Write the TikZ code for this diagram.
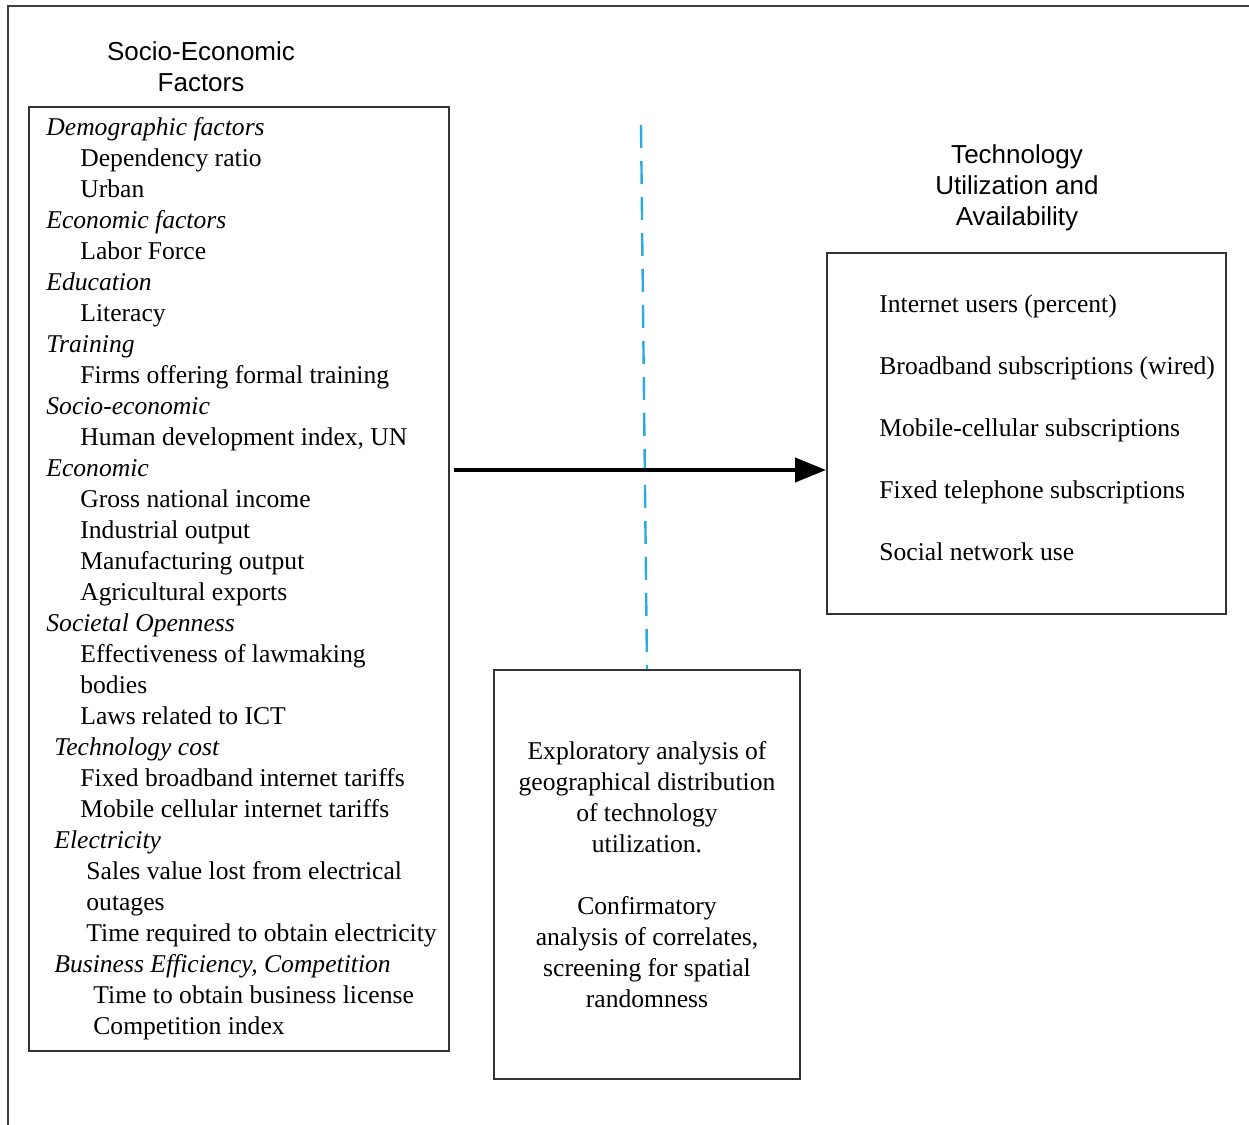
\documentclass[tikz,border=0pt]{standalone}
\usepackage{fontspec}
\setmainfont{Liberation Serif}
\newfontfamily\titlefont{Liberation Sans}
\usepackage{tikz}
\usetikzlibrary{arrows.meta}
\definecolor{splitblue}{RGB}{45,170,225}

\begin{document}
\begin{tikzpicture}[
		x=0.5pt, y=-0.5pt,
		every node/.style={inner sep=0pt, font=\fontsize{12.8pt}{15.5pt}\selectfont},
		box/.style={rectangle, draw=black!80, line width=1pt},
		title/.style={align=center, font=\titlefont\fontsize{13pt}{15.5pt}\selectfont}
	]
  \useasboundingbox (0,0) rectangle (1249,1125);
  \draw[line width=1pt, black!75] (8,1125) -- (8,6) -- (1249,6);

  % left column
  \node (socio_title) [title] at (201,66.5) {Socio-Economic\\Factors};
  \node (socio_box) [box, minimum width=210pt, minimum height=472pt] at (239,579) {};
  \foreach \dx/\txt [count=\i from 0] in {
      0/{\textit{Demographic factors}}, 34/{Dependency ratio}, 34/{Urban},
      0/{\textit{Economic factors}}, 34/{Labor Force},
      0/{\textit{Education}}, 34/{Literacy},
      0/{\textit{Training}}, 34/{Firms offering formal training},
      0/{\textit{Socio-economic}}, 34/{Human development index, UN},
      0/{\textit{Economic}}, 34/{Gross national income}, 34/{Industrial output},
      34/{Manufacturing output}, 34/{Agricultural exports},
      0/{\textit{Societal Openness}}, 34/{Effectiveness of lawmaking}, 34/{bodies},
      34/{Laws related to ICT},
      8/{\textit{Technology cost}}, 34/{Fixed broadband internet tariffs},
      34/{Mobile cellular internet tariffs},
      8/{\textit{Electricity}}, 40/{Sales value lost from electrical}, 40/{outages},
      40/{Time required to obtain electricity},
      8/{\textit{Business Efficiency, Competition}}, 47/{Time to obtain business license},
      47/{Competition index}}
    \node (fac_\i) [anchor=base west] at (46+\dx,135+31*\i) {\txt};

  % right column
  \node (tech_title) [title] at (1017,187.5) {Technology\\Utilization and\\Availability};
  \node (tech_box) [box, minimum width=199.5pt, minimum height=180.5pt] at (1026.5,433.5) {};
  \foreach \txt [count=\i from 0] in {Internet users (percent), Broadband subscriptions (wired),
      Mobile-cellular subscriptions, Fixed telephone subscriptions, Social network use}
    \node (use_\i) [anchor=base west] at (879,312+62*\i) {\txt};

  % analysis
  \node (analysis_box) [box, minimum width=153pt, minimum height=204.5pt, align=center] at (647,874.5)
    {Exploratory analysis of\\geographical distribution\\of technology\\utilization.\\[15.5pt]Confirmatory\\analysis of correlates,\\screening for spatial\\randomness};

  \coordinate (split_top) at (641,125);
  \draw[splitblue, line width=1.2pt, dash pattern=on 11.5pt off 6.5pt] (split_top) -- (analysis_box.north);

  \coordinate (arrow_y) at (0,470);
  \draw[line width=2pt, shorten <=2pt, -{Triangle[length=15.5pt,width=12pt]}]
    (socio_box.east |- arrow_y) -- (tech_box.west |- arrow_y);
\end{tikzpicture}
\end{document}
